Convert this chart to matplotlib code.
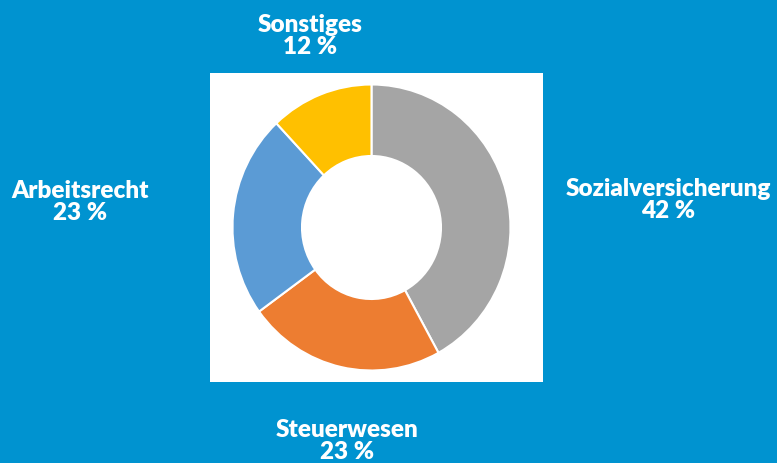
import matplotlib.pyplot as plt

# data
categories = ['Sozialversicherung', 'Steuerwesen', 'Arbeitsrecht', 'Sonstiges']
shares = [42, 23, 23, 12]
colors = ['#A5A5A5', '#ED7D31', '#5B9BD5', '#FFC000']

bg_blue = '#0093D0'
W, H = 777, 464

fig = plt.figure(figsize=(W / 100, H / 100), dpi=100, facecolor=bg_blue)

# white box holding the donut
ax = fig.add_axes([210 / W, (H - 383) / H, 333 / W, 309 / H])
ax.pie(shares, colors=colors, startangle=90, counterclock=False, frame=True,
       radius=1.0, wedgeprops=dict(width=0.5, edgecolor='white', linewidth=1.5))
ax.set_facecolor('white')
for s in ax.spines.values():
    s.set_visible(False)
ax.set_xticks([])
ax.set_yticks([])
# donut is slightly taller than wide in the source image
rx_px, ry_px = 139.0, 143.0
ax.set_xlim(-161.5 / rx_px, 171.5 / rx_px)
ax.set_ylim(-154.5 / ry_px, 154.5 / ry_px)
ax.set_aspect('auto')

# labels outside the box
label_pos = {
    'Sozialversicherung': (668, 200),
    'Steuerwesen': (347, 441),
    'Arbeitsrecht': (80, 202),
    'Sonstiges': (310, 36),
}
for name, val in zip(categories, shares):
    x, y = label_pos[name]
    fig.text(x / W, 1 - y / H, '{}\n{} %'.format(name, val), ha='center', va='center',
             color='white', fontsize=17.5, fontweight='heavy', family='Lato',
             linespacing=0.95)

fig.savefig('out.png', dpi=100, facecolor=bg_blue)
